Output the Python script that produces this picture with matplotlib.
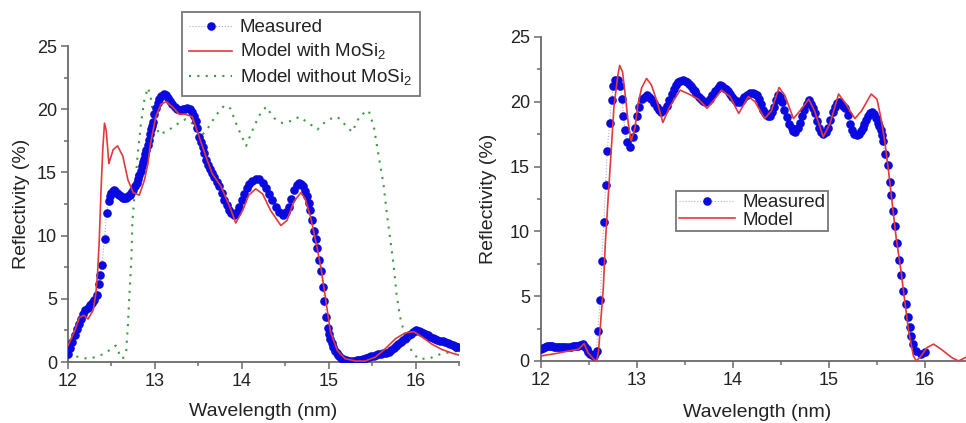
import numpy as np
import matplotlib.pyplot as plt
from matplotlib.ticker import MultipleLocator

plt.rcParams['font.family'] = ['Liberation Sans', 'DejaVu Sans']
plt.rcParams['mathtext.fontset'] = 'custom'
plt.rcParams['mathtext.rm'] = 'Liberation Sans'

# ---- left panel: measured reflectivity (%) vs wavelength (nm)
meas1_x = [12.00, 12.025, 12.05, 12.075, 12.10, 12.125, 12.15, 12.175, 12.20, 12.225,
           12.25, 12.275, 12.30, 12.33, 12.355, 12.37, 12.39, 12.42, 12.445, 12.47,
           12.485, 12.50, 12.515, 12.53, 12.545, 12.56, 12.575, 12.59, 12.605, 12.62,
           12.635, 12.65, 12.665, 12.68, 12.695, 12.71, 12.73, 12.75, 12.77, 12.79,
           12.805, 12.82, 12.835, 12.85, 12.865, 12.88, 12.89, 12.90, 12.915, 12.93,
           12.94, 12.95, 12.965, 12.98, 12.995, 13.01, 13.03, 13.05, 13.075, 13.10,
           13.125, 13.15, 13.175, 13.20, 13.23, 13.26, 13.29, 13.32, 13.345, 13.37,
           13.40, 13.43, 13.45, 13.47, 13.49, 13.51, 13.53, 13.55, 13.57, 13.59,
           13.61, 13.63, 13.655, 13.68, 13.71, 13.74, 13.77, 13.80, 13.825, 13.85,
           13.88, 13.91, 13.94, 13.97, 14.00, 14.03, 14.055, 14.08, 14.12, 14.16,
           14.20, 14.24, 14.275, 14.31, 14.35, 14.39, 14.43, 14.47, 14.505, 14.54,
           14.57, 14.60, 14.63, 14.66, 14.685, 14.71, 14.73, 14.75, 14.77, 14.79,
           14.81, 14.83, 14.85, 14.87, 14.89, 14.91, 14.93, 14.95, 14.97, 14.99,
           15.005, 15.02, 15.035, 15.05, 15.07, 15.09, 15.105, 15.12, 15.145, 15.17,
           15.20, 15.23, 15.265, 15.30, 15.325, 15.35, 15.375, 15.40, 15.43, 15.46,
           15.49, 15.52, 15.545, 15.57, 15.60, 15.63, 15.66, 15.69, 15.72, 15.75,
           15.775, 15.80, 15.83, 15.86, 15.89, 15.92, 15.945, 15.97, 15.99, 16.01,
           16.035, 16.06, 16.085, 16.11, 16.14, 16.17, 16.195, 16.22, 16.25, 16.28,
           16.31, 16.34, 16.37, 16.40, 16.425, 16.45, 16.47, 16.49]
meas1_y = [0.66, 1.1, 1.6, 2.1, 2.6, 3.0, 3.4, 3.8, 4.1, 4.3,
           4.5, 4.7, 4.9, 5.3, 6.2, 6.9, 7.7, 9.7, 11.8, 12.7,
           13.1, 13.4, 13.55, 13.6, 13.5, 13.4, 13.3, 13.2, 13.1, 13.05,
           13.0, 13.0, 13.0, 13.05, 13.1, 13.2, 13.4, 13.6, 13.9, 14.2,
           14.5, 14.8, 15.1, 15.5, 15.8, 16.1, 16.45, 16.8, 17.2, 17.6,
           18.0, 18.4, 18.7, 19.0, 19.6, 20.1, 20.5, 20.8, 21.05, 21.2,
           21.1, 20.9, 20.65, 20.4, 20.2, 20.0, 19.95, 20.0, 20.05, 20.1,
           20.05, 19.8, 19.5, 19.1, 18.5, 17.8, 17.4, 17.0, 16.5, 16.0,
           15.6, 15.3, 14.95, 14.6, 14.25, 13.9, 13.35, 12.8, 12.4, 12.0,
           11.75, 11.6, 11.85, 12.3, 12.8, 13.3, 13.75, 14.1, 14.35, 14.5,
           14.45, 14.2, 13.8, 13.3, 12.8, 12.3, 11.9, 11.6, 11.85, 12.3,
           12.9, 13.6, 14.0, 14.2, 14.1, 13.9, 13.5, 13.1, 12.6, 12.0,
           11.2, 10.4, 9.7, 9.0, 8.1, 7.2, 5.9, 4.8, 3.6, 2.7,
           2.2, 1.8, 1.5, 1.2, 0.9, 0.7, 0.55, 0.45, 0.3, 0.2,
           0.12, 0.08, 0.08, 0.1, 0.12, 0.13, 0.18, 0.25, 0.33, 0.4,
           0.45, 0.5, 0.55, 0.6, 0.65, 0.7, 0.75, 0.8, 0.95, 1.1,
           1.25, 1.4, 1.57, 1.75, 1.93, 2.1, 2.25, 2.4, 2.47, 2.5,
           2.47, 2.4, 2.3, 2.2, 2.1, 2.0, 1.92, 1.85, 1.78, 1.7,
           1.65, 1.6, 1.5, 1.4, 1.32, 1.24, 1.22, 1.2]

with1_x = [12.00, 12.08, 12.13, 12.18, 12.23, 12.29, 12.32, 12.34, 12.36, 12.38,
           12.40, 12.42, 12.44, 12.47, 12.52, 12.57, 12.63, 12.69, 12.75, 12.82,
           12.88, 12.92, 12.95, 13.01, 13.07, 13.13, 13.20, 13.28, 13.35, 13.43,
           13.51, 13.59, 13.66, 13.76, 13.86, 13.93, 14.01, 14.08, 14.16, 14.24,
           14.33, 14.45, 14.52, 14.60, 14.68, 14.73, 14.79, 14.85, 14.91, 14.96,
           15.02, 15.10, 15.19, 15.31, 15.42, 15.54, 15.65, 15.77, 15.88, 15.98,
           16.07, 16.19, 16.30, 16.42, 16.50]
with1_y = [1.3, 2.5, 3.5, 3.7, 3.4, 4.1, 5.4, 7.0, 9.7, 13.6,
           16.8, 18.9, 18.3, 15.7, 16.8, 17.1, 16.3, 14.4, 13.4, 13.2,
           14.4, 15.7, 17.3, 19.4, 20.4, 20.6, 20.2, 19.6, 19.6, 19.4,
           17.8, 16.2, 14.9, 13.9, 12.3, 11.0, 12.0, 13.2, 13.7, 13.3,
           12.0, 10.8, 11.2, 12.7, 13.4, 12.9, 11.5, 9.6, 7.5, 5.2,
           2.4, 0.9, 0.26, 0.08, 0.08, 0.4, 1.05, 1.85, 2.3, 2.4,
           2.0, 1.4, 1.0, 0.7, 0.55]

without1_x = [12.00, 12.13, 12.23, 12.32, 12.42, 12.50, 12.55, 12.59, 12.63, 12.67,
              12.69, 12.71, 12.73, 12.74, 12.77, 12.80, 12.84, 12.88, 12.92, 12.95,
              12.99, 13.05, 13.15, 13.25, 13.35, 13.45, 13.55, 13.63, 13.70, 13.80,
              13.87, 13.95, 14.05, 14.12, 14.20, 14.28, 14.37, 14.47, 14.58, 14.66,
              14.77, 14.87, 14.96, 15.04, 15.10, 15.17, 15.27, 15.36, 15.46, 15.52,
              15.57, 15.63, 15.67, 15.71, 15.75, 15.78, 15.82, 15.88, 15.96, 16.03,
              16.15, 16.30, 16.50]
without1_y = [0.5, 0.4, 0.25, 0.4, 0.66, 1.05, 1.3, 0.66, 0.25, 0.9,
              3.0, 5.7, 8.3, 11.0, 13.6, 16.3, 18.9, 20.8, 21.7, 21.0,
              19.2, 18.0, 18.3, 18.8, 19.2, 18.8, 18.0, 18.7, 19.5, 20.3,
              20.05, 18.6, 17.1, 18.3, 19.5, 20.2, 19.3, 18.9, 19.1, 19.4,
              18.9, 18.4, 19.0, 19.3, 19.4, 18.9, 18.2, 19.5, 19.9, 18.6,
              16.5, 14.1, 11.7, 9.6, 7.5, 5.4, 3.6, 2.0, 0.8, 0.26,
              0.26, 0.66, 0.9]

# ---- right panel
meas2_x = [12.00, 12.02, 12.04, 12.06, 12.08, 12.10, 12.12, 12.14, 12.16, 12.18,
           12.20, 12.22, 12.24, 12.265, 12.29, 12.31, 12.33, 12.35, 12.37, 12.39,
           12.41, 12.425, 12.44, 12.46, 12.48, 12.495, 12.51, 12.53, 12.55, 12.565,
           12.58, 12.59, 12.62, 12.632, 12.656, 12.674, 12.69, 12.715, 12.736, 12.753,
           12.77, 12.80, 12.82, 12.847, 12.858, 12.875, 12.892, 12.927, 12.955, 12.98,
           12.997, 13.021, 13.056, 13.08, 13.10, 13.125, 13.15, 13.18, 13.21, 13.23,
           13.25, 13.28, 13.31, 13.335, 13.36, 13.385, 13.41, 13.43, 13.45, 13.475,
           13.50, 13.52, 13.54, 13.56, 13.58, 13.60, 13.62, 13.645, 13.67, 13.69,
           13.71, 13.735, 13.76, 13.785, 13.81, 13.84, 13.865, 13.89, 13.91, 13.93,
           13.95, 13.97, 13.995, 14.02, 14.045, 14.07, 14.095, 14.12, 14.15, 14.18,
           14.21, 14.23, 14.25, 14.27, 14.29, 14.31, 14.33, 14.36, 14.39, 14.41,
           14.43, 14.45, 14.47, 14.49, 14.51, 14.535, 14.56, 14.585, 14.61, 14.63,
           14.65, 14.675, 14.70, 14.72, 14.745, 14.77, 14.79, 14.81, 14.83, 14.85,
           14.875, 14.90, 14.92, 14.94, 14.965, 14.99, 15.015, 15.04, 15.06, 15.08,
           15.10, 15.125, 15.15, 15.17, 15.195, 15.22, 15.24, 15.265, 15.29, 15.31,
           15.33, 15.35, 15.37, 15.39, 15.41, 15.43, 15.45, 15.47, 15.49, 15.51,
           15.525, 15.54, 15.55, 15.56, 15.58, 15.61, 15.64, 15.65, 15.67, 15.69,
           15.71, 15.73, 15.75, 15.77, 15.80, 15.82, 15.84, 15.85, 15.88, 15.91,
           15.96, 16.00]
meas2_y = [0.9, 0.98, 1.05, 1.12, 1.16, 1.14, 1.12, 1.11, 1.1, 1.09,
           1.08, 1.07, 1.06, 1.07, 1.08, 1.1, 1.12, 1.14, 1.15, 1.17,
           1.2, 1.25, 1.3, 1.1, 0.9, 0.7, 0.57, 0.45, 0.39, 0.55,
           0.77, 2.3, 4.7, 7.7, 10.7, 13.6, 16.2, 18.4, 20.1, 21.2,
           21.7, 21.7, 21.2, 20.2, 18.9, 17.8, 16.9, 16.5, 17.3, 18.0,
           18.9, 19.6, 20.2, 20.4, 20.5, 20.4, 20.2, 19.9, 19.6, 19.35,
           19.2, 19.4, 19.7, 20.15, 20.6, 21.0, 21.3, 21.5, 21.6, 21.65,
           21.6, 21.5, 21.4, 21.2, 21.0, 20.8, 20.6, 20.4, 20.2, 20.05,
           20.0, 20.05, 20.2, 20.5, 20.8, 21.1, 21.3, 21.25, 21.1, 21.0,
           20.8, 20.6, 20.35, 20.1, 20.0, 20.0, 20.15, 20.35, 20.55, 20.7,
           20.7, 20.6, 20.5, 20.2, 19.8, 19.4, 19.1, 18.9, 18.9, 19.2,
           19.6, 20.1, 20.5, 20.35, 20.0, 19.4, 18.8, 18.3, 17.95, 17.75,
           17.7, 18.0, 18.4, 18.9, 19.4, 19.85, 20.1, 19.85, 19.5, 19.1,
           18.5, 18.0, 17.65, 17.5, 17.65, 18.0, 18.6, 19.2, 19.6, 19.9,
           20.0, 19.85, 19.65, 19.5, 19.0, 18.3, 17.8, 17.55, 17.45, 17.5,
           17.75, 18.0, 18.3, 18.6, 18.9, 19.1, 19.2, 19.05, 18.75, 18.4,
           18.1, 17.8, 17.4, 17.0, 16.0, 15.1, 13.8, 12.8, 11.6, 10.4,
           9.1, 7.8, 6.6, 5.4, 4.4, 3.4, 2.6, 1.9, 1.3, 0.77,
           0.57, 0.72]

model2_x = [12.00, 12.15, 12.29, 12.39, 12.45, 12.49, 12.55, 12.58, 12.60, 12.62,
            12.65, 12.67, 12.70, 12.73, 12.76, 12.80, 12.82, 12.85, 12.88, 12.91,
            12.94, 12.98, 13.01, 13.05, 13.10, 13.15, 13.21, 13.27, 13.34, 13.45,
            13.54, 13.64, 13.73, 13.81, 13.88, 13.97, 14.06, 14.16, 14.23, 14.33,
            14.40, 14.48, 14.54, 14.63, 14.72, 14.79, 14.85, 14.94, 15.01, 15.10,
            15.17, 15.27, 15.34, 15.44, 15.50, 15.54, 15.58, 15.62, 15.66, 15.70,
            15.75, 15.79, 15.83, 15.88, 15.91, 15.96, 16.02, 16.09, 16.17, 16.28,
            16.35, 16.43, 16.50]
model2_y = [0.39, 0.57, 0.77, 0.9, 1.34, 0.64, 0.13, 0.0, 0.77, 2.8,
            5.7, 9.0, 12.6, 16.0, 19.6, 22.0, 22.8, 22.3, 20.4, 18.3,
            17.0, 18.0, 19.8, 21.1, 21.8, 21.3, 20.0, 18.4, 19.6, 20.9,
            20.6, 20.2, 19.5, 20.2, 20.9, 20.4, 19.1, 20.4, 20.0, 18.7,
            19.3, 21.1, 20.5, 18.7, 19.5, 20.2, 19.3, 17.3, 18.3, 20.6,
            19.9, 18.7, 19.3, 20.6, 20.2, 18.8, 17.0, 14.7, 12.1, 9.5,
            7.0, 4.6, 2.3, 0.39, 0.0, 0.39, 1.03, 1.3, 0.9, 0.26,
            0.0, 0.3, 0.5]

blue = '#0a0ae0'
red = '#e23a3a'
green = '#3c9c3c'
txt = '#222222'
spine = '#6a6a6a'


def style_axes(ax, xpad):
    ax.set_xlim(12, 16.5)
    ax.set_ylim(0, 25)
    ax.xaxis.set_major_locator(MultipleLocator(1))
    ax.xaxis.set_minor_locator(MultipleLocator(0.5))
    ax.yaxis.set_major_locator(MultipleLocator(5))
    ax.yaxis.set_minor_locator(MultipleLocator(2.5))
    for s in ['top', 'right']:
        ax.spines[s].set_visible(False)
    for s in ['left', 'bottom']:
        ax.spines[s].set_color(spine)
        ax.spines[s].set_linewidth(1.3)
    ax.tick_params(which='both', direction='out', colors=spine, labelcolor=txt,
                   labelsize=13, width=1.1)
    ax.tick_params(which='major', length=5, pad=3)
    ax.tick_params(which='minor', length=3)
    ax.set_xlabel('Wavelength (nm)', fontsize=14, color=txt, labelpad=xpad)
    ax.set_ylabel('Reflectivity (%)', fontsize=14, color=txt, labelpad=5)


fig = plt.figure(figsize=(9.66, 4.23), dpi=100)

ax1 = fig.add_axes([0.0704, 0.1442, 0.4048, 0.7470])
ax1.plot(without1_x, without1_y, color=green, lw=1.5, ls=(0, (1, 3)),
         label='Model without MoSi$_2$', zorder=2)
ax1.plot(meas1_x, meas1_y, color='#a8aef0', lw=0.8, ls=':', marker='o',
         ms=6.2, mfc=blue, mec=blue, mew=0, label='Measured', zorder=3)
ax1.plot(with1_x, with1_y, color=red, lw=1.2, label='Model with MoSi$_2$', zorder=4)
style_axes(ax1, 9)

h, l = ax1.get_legend_handles_labels()
order = [1, 2, 0]
leg1 = fig.legend([h[i] for i in order], [l[i] for i in order],
                  loc='upper left', bbox_to_anchor=(0.188, 0.972), borderaxespad=0,
                  fontsize=13.5, frameon=True, fancybox=False, edgecolor='#555555',
                  handlelength=2.3, handletextpad=0.4, labelspacing=0.3,
                  borderpad=0.4, labelcolor=txt, numpoints=1)
leg1.get_frame().set_linewidth(1.3)

ax2 = fig.add_axes([0.5600, 0.1466, 0.4472, 0.7660])
ax2.plot(meas2_x, meas2_y, color='#a8aef0', lw=0.8, ls=':', marker='o',
         ms=6.2, mfc=blue, mec=blue, mew=0, label='Measured', zorder=3)
ax2.plot(model2_x, model2_y, color=red, lw=1.2, label='Model', zorder=4)
style_axes(ax2, 11)
ax2.set_ylabel('Reflectivity (%)', fontsize=14, color=txt, labelpad=9)

leg2 = fig.legend(loc='upper left', handles=ax2.get_lines(),
                  bbox_to_anchor=(0.6998, 0.548), borderaxespad=0,
                  fontsize=13.5, frameon=True, fancybox=False, edgecolor='#555555',
                  handlelength=3.0, handletextpad=0.4, labelspacing=0.02,
                  borderpad=0.15, labelcolor=txt, numpoints=1)
leg2.get_frame().set_linewidth(1.3)

fig.savefig('out.png', dpi=100, facecolor='white')
